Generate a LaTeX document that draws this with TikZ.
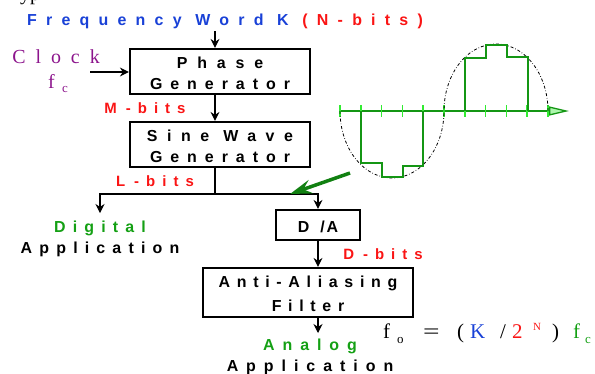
\documentclass[tikz,border=0pt]{standalone}
\usepackage{fontspec}
\usepackage{xcolor}
\usepackage{graphicx}
\usetikzlibrary{arrows.meta, positioning}
\setmainfont{Liberation Serif}
\newfontfamily\widesans[LetterSpace=50]{Liberation Sans}
\newfontfamily\clockfont[LetterSpace=50]{Liberation Serif}
\definecolor{kblue}{RGB}{25,65,215}
\definecolor{nred}{RGB}{250,20,20}
\definecolor{appgreen}{RGB}{20,160,20}
\definecolor{clkpurple}{RGB}{140,20,140}
\definecolor{stepgreen}{RGB}{20,150,20}
\definecolor{limegreen}{RGB}{50,235,50}
\newcommand{\subsz}{\fontsize{13}{13}\selectfont}
\newcommand{\gl}[2]{\makebox[#1][l]{#2}}
\newcommand{\tspace}[1]{\addfontfeature{LetterSpace=#1}}
\newcommand{\topstrut}{\rule{0pt}{15bp}}

\begin{document}
\begin{tikzpicture}[x=1bp, y=-1bp,
  lbl/.style={font=\widesans\bfseries\fontsize{16}{21}\selectfont, align=center, inner sep=0pt},
  bits/.style={lbl, font=\widesans\bfseries\fontsize{15}{15}\selectfont\tspace{47}, text=nred, anchor=base},
  blk/.style={lbl, draw, line width=2.2bp},
  arr/.style={line width=1.1bp, -{Stealth[length=9bp, width=9bp]}},
  clk/.style={font=\clockfont\fontsize{20}{20}\selectfont, text=clkpurple, inner sep=0pt},
  eq/.style={font=\fontsize{21}{21}\selectfont, inner sep=0pt},
  sinedash/.style={line width=0.8bp, dash pattern=on 3bp off 2bp on 0.6bp off 2bp},
  tickmark/.style={limegreen, line width=1.6bp},
]
\useasboundingbox (0,0) rectangle (595,373);

% cut heading
\node[font=\fontsize{20}{20}\selectfont, anchor=base west, inner sep=0pt] (head) at (20,0.6) {yp};

% blocks
\node[blk, minimum width=180bp, minimum height=45bp] (phase) at (220,71.5) {\topstrut{\tspace{62}Phase}\\Generator};
\node[blk, minimum width=180bp, minimum height=45bp] (sine) at (220,144.5) {\topstrut{\tspace{60}Sine Wave}\\Generator};
\node[blk, minimum width=84bp, minimum height=30bp] (dac) at (318,225) {\topstrut D\kern11bp/\kern2bp A};
\node[blk, minimum width=210bp, minimum height=49bp, font=\widesans\bfseries\fontsize{16}{21}\selectfont\tspace{42}] (aaf) at (308,292.5) {\topstrut Anti-Aliasing\\[3bp]Filter};

% labels
\node[lbl, anchor=base, font=\widesans\bfseries\fontsize{16}{21}\selectfont\tspace{58}] (freq) at (225,25) {\textcolor{kblue}{Frequency Word K} \textcolor{nred}{(N-bits)}};
\node[bits] (mbits) at (145,113) {M\kern9bp-bits};
\node[bits] (lbits) at (155,186) {L\kern9bp-bits};
\node[bits] (dbits) at (383,259) {D\kern9bp-bits};
\node[lbl, anchor=base, font=\widesans\bfseries\fontsize{16}{21}\selectfont\tspace{45}] (digital) at (100,253.5) {\textcolor{appgreen}{Digital}\\Application};
\node[lbl, anchor=base] (analog) at (310,371.5) {\textcolor{appgreen}{Analog}\\Application};
\node[clk, anchor=base] (clock) at (56,63) {Clock};
\node[clk, anchor=base west] (fc) at (48,88) {\gl{14bp}{f}\raisebox{-4bp}{\subsz c}};
\node[eq, anchor=base west] (fout) at (383,338) {\gl{14bp}{f}\gl{26bp}{\raisebox{-5bp}{\subsz o}}\gl{34bp}{\scalebox{1.4}[1]{=}}\gl{13bp}{(}\gl{30bp}{\textcolor{kblue}{K}}\gl{12bp}{/}\gl{21bp}{\textcolor{nred}{2}}\gl{19bp}{\raisebox{8bp}{\fontsize{11}{11}\selectfont\textcolor{nred}{N}}}\gl{21bp}{)}\gl{12bp}{\textcolor{appgreen}{f}}\raisebox{-5bp}{\subsz\textcolor{appgreen}{c}}};

% connectors
\coordinate (kin) at (215,31);
\coordinate (clkin) at (90,72);
\coordinate (split) at (215,194);
\coordinate (dleft) at (100,194);
\coordinate (dend) at (100,213);
\coordinate (aend) at (318,333);
\draw[arr] (kin) -- (kin |- phase.north);
\draw[arr] (clkin) -- (clkin -| phase.west);
\draw[arr] (phase.south -| kin) -- (sine.north -| kin);
\draw[line width=1.1bp] (sine.south -| kin) -- (split);
\draw[arr] (dac.north |- split) -- (dleft) -- (dend);
\draw[arr] (split) -- (dac.north |- split) -- (dac.north);
\draw[arr] (dac.south) -- (dac.south |- aaf.north);
\draw[arr] (aaf.south -| dac) -- (aend);

% sampled sine
\coordinate (gtail) at (350,173);
\coordinate (ghead) at (290,194);
\draw[stepgreen!85!black, line width=3.5bp, -{Stealth[length=22bp, width=14bp, inset=8bp]}] (gtail) -- (ghead);
\draw[stepgreen, line width=1.3bp, -{Triangle[open, fill=limegreen!40, length=20bp, width=9bp]}] (340,111) -- (569,111);
\foreach \i in {0,...,10}
  \draw[tickmark] ({340+20.8*\i},105) -- ({340+20.8*\i},117);
\draw[sinedash] plot[domain=180:360, samples=40, smooth, variable=\t] ({392+52*cos(\t)},{111-67*sin(\t)})
  -- plot[domain=0:180, samples=40, smooth, variable=\t] ({496-52*cos(\t)},{111-67*sin(\t)});
\draw[stepgreen, line width=1.3bp] (361,111) -- (361,163) -- (382,163) -- (382,177) -- (403,177) -- (403,166) -- (423,166) -- (423,111)
  (465,111) -- (465,58) -- (486,58) -- (486,45) -- (507,45) -- (507,57) -- (528,57) -- (528,111);
\end{tikzpicture}
\end{document}
